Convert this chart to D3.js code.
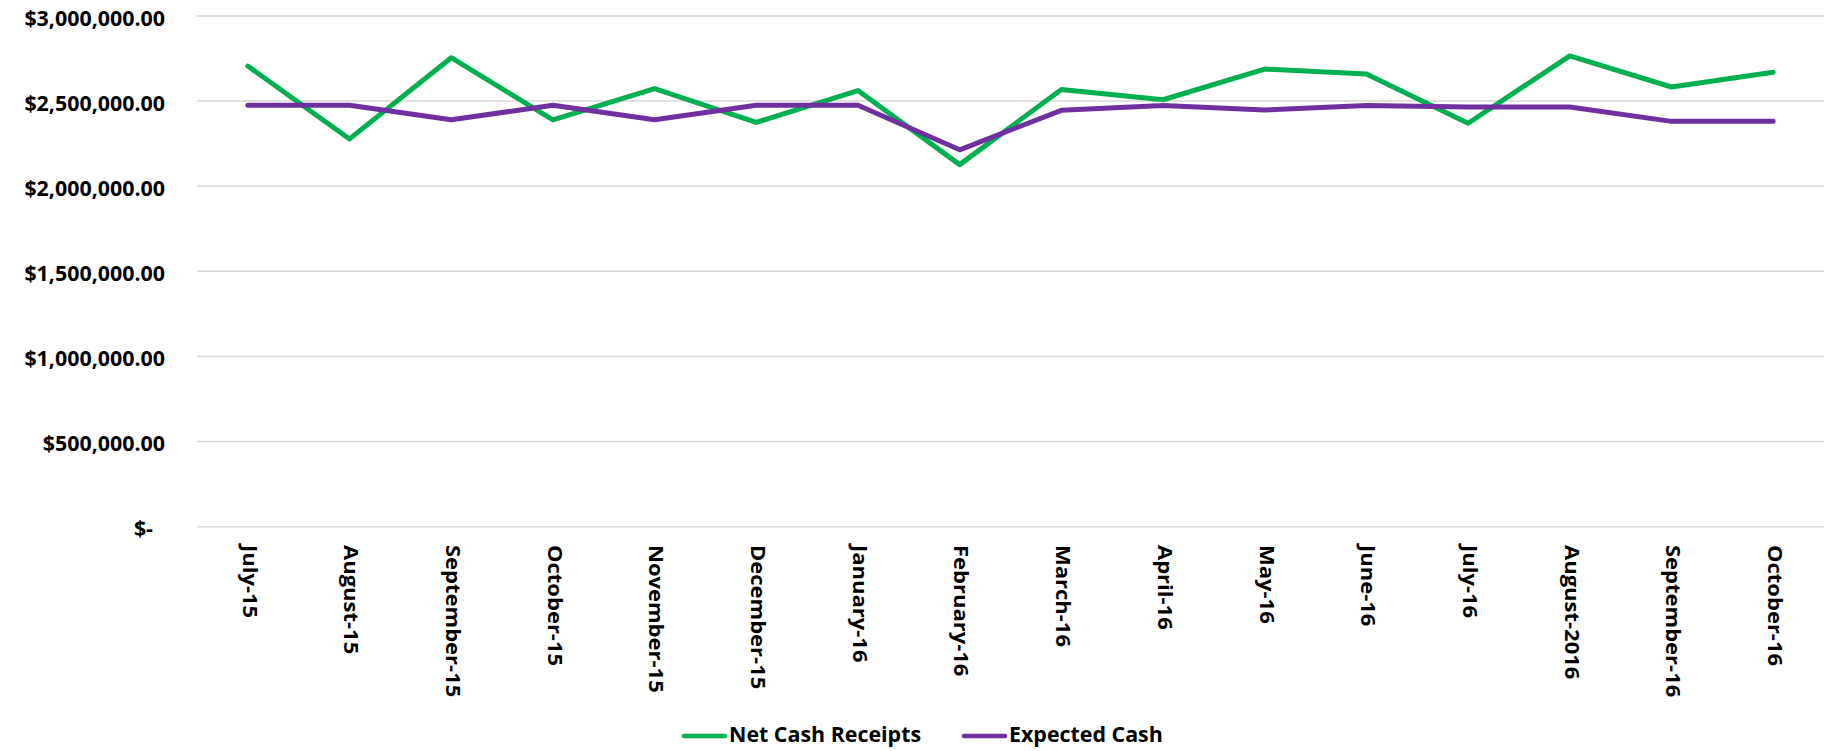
<!DOCTYPE html>
<html>
<head>
<meta charset="utf-8">
<script src="https://cdn.jsdelivr.net/npm/d3@7"></script>
<style>
  html, body { margin: 0; padding: 0; background: #fff; }
  svg { display: block; }
</style>
</head>
<body>
<svg id="chart" width="1833" height="751"></svg>
<script>
const categories = ["July-15","August-15","September-15","October-15","November-15","December-15","January-16","February-16","March-16","April-16","May-16","June-16","July-16","August-2016","September-16","October-16"];
const netCashReceipts = [2706000,2278000,2755000,2390000,2573000,2375000,2562000,2127000,2568000,2508000,2688000,2660000,2370000,2766000,2583000,2670000];
const expectedCash = [2476000,2476000,2390000,2476000,2390000,2476000,2476000,2214000,2446000,2474000,2448000,2474000,2466000,2466000,2381000,2381000];
const yTicks = [0,500000,1000000,1500000,2000000,2500000,3000000];
const seriesNames = ["Net Cash Receipts","Expected Cash"];
const seriesColors = ["#00B050","#7030A0"];

const FONT = "'Open Sans', sans-serif";
const svg = d3.select("#chart");
const plotLeft = 197, plotRight = 1824, plotTop = 16, plotBottom = 526.7;

const x = d3.scaleBand().domain(categories).range([plotLeft, plotRight]);
const y = d3.scaleLinear().domain([0, 3000000]).range([plotBottom, plotTop]);

// gridlines
svg.append("g").selectAll("line").data(yTicks).join("line")
  .attr("x1", plotLeft).attr("x2", plotRight)
  .attr("y1", d => y(d)).attr("y2", d => y(d))
  .attr("stroke", "#d9d9d9").attr("stroke-width", 1.5);

// y axis labels
const fmt = d3.format("$,.2f");
const yAxis = d3.axisLeft(y).tickValues(yTicks).tickSize(0).tickPadding(0)
  .tickFormat(d => d === 0 ? "$-" : fmt(d));
const yg = svg.append("g").attr("transform", `translate(${plotLeft - 32},0)`).call(yAxis);
yg.select(".domain").remove();
yg.selectAll("text")
  .attr("font-family", FONT)
  .attr("font-weight", "bold")
  .attr("font-size", 21.4)
  .attr("fill", "#000")
  .attr("dy", "0.42em")
  .attr("dx", d => d === 0 ? -12 : 0);

// x axis labels (rotated, slightly stretched along the reading direction)
const xg = svg.append("g");
xg.selectAll("text").data(categories).join("text")
  .attr("transform", d => `translate(${x(d) + x.bandwidth() / 2},545) rotate(90) scale(1.1,1)`)
  .attr("dy", "0.26em")
  .attr("font-family", FONT)
  .attr("font-weight", "bold")
  .attr("font-size", 20)
  .attr("fill", "#000")
  .text(d => d);

// lines
const series = [netCashReceipts, expectedCash];
const line = d3.line()
  .x((d, i) => x(categories[i]) + x.bandwidth() / 2)
  .y(d => y(d));
svg.append("g").selectAll("path").data(series).join("path")
  .attr("d", d => line(d))
  .attr("fill", "none")
  .attr("stroke", (d, i) => seriesColors[i])
  .attr("stroke-width", 5)
  .attr("stroke-linejoin", "round")
  .attr("stroke-linecap", "round");

// legend
const legendItems = [{x: 682, name: seriesNames[0], color: seriesColors[0]}, {x: 962, name: seriesNames[1], color: seriesColors[1]}];
const lg = svg.append("g").selectAll("g").data(legendItems).join("g")
  .attr("transform", d => `translate(${d.x},734.5)`);
lg.append("line").attr("x1", 2).attr("x2", 43).attr("y1", 1.5).attr("y2", 1.5)
  .attr("stroke", d => d.color).attr("stroke-width", 4.5).attr("stroke-linecap", "round");
lg.append("text").attr("x", 47).attr("dy", "0.36em")
  .attr("font-family", FONT)
  .attr("font-weight", "bold").attr("font-size", 21.4).attr("fill", "#000")
  .text(d => d.name);
</script>
</body>
</html>
